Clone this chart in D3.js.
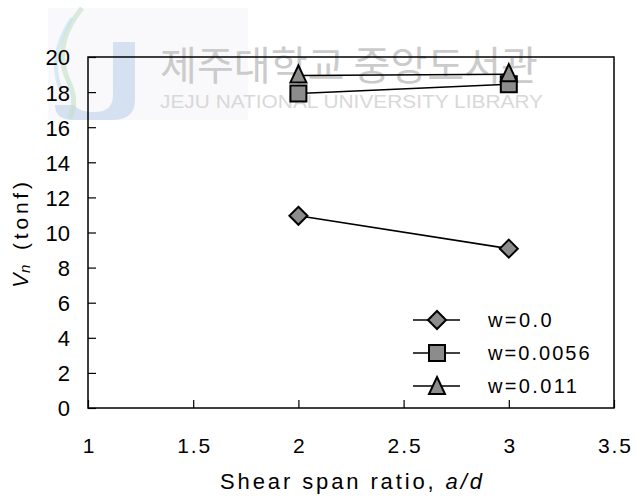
<!DOCTYPE html>
<html><head><meta charset="utf-8">
<script src="https://cdn.jsdelivr.net/npm/d3@7"></script>
<style>body{margin:0;background:#fff}svg{display:block}</style>
</head><body>
<svg id="c" width="636" height="496"></svg>
<script>
const xTicks = [1, 1.5, 2, 2.5, 3, 3.5];
const xTickLabels = ["1", "1.5", "2", "2.5", "3", "3.5"];
const yTicks = [0, 2, 4, 6, 8, 10, 12, 14, 16, 18, 20];
const spanRatio = [2, 3];
const seriesNames = ["w=0.0", "w=0.0056", "w=0.011"];
const seriesShapes = ["diamond", "square", "triangle"];
const vW0 = [10.95, 9.08];
const vW0056 = [17.92, 18.45];
const vW011 = [18.95, 19.02];
const seriesValues = [vW0, vW0056, vW011];

const svg = d3.select("#c");
const L = 88, R = 614, T = 57, B = 408;
const x = d3.scaleLinear().domain([1, 3.5]).range([L, R]);
const y = d3.scaleLinear().domain([0, 20]).range([B, T]);
const narrow = "'Liberation Sans', Arial, sans-serif";

// watermark (behind)
const wm = svg.append("g");
wm.append("rect").attr("x", 48).attr("y", 8).attr("width", 200).attr("height", 112)
  .attr("fill", "#f6f7f9").attr("opacity", 0.7);
wm.append("path")
  .attr("d", "M113,42 L135,42 L135,100 Q135,120 112,120 L70,120 Q55,118 55,105 L75,105 Q78,112 95,112 Q113,112 113,95 Z")
  .attr("fill", "#a9c0e2").attr("opacity", 0.45);
wm.append("path").attr("d", "M82,8 Q52,45 68,80 Q78,100 70,118")
  .attr("fill", "none").attr("stroke", "#c3e0c6").attr("stroke-width", 5).attr("opacity", 0.6);
wm.append("path").attr("d", "M72,18 Q48,55 60,88")
  .attr("fill", "none").attr("stroke", "#bfe0f0").attr("stroke-width", 4).attr("opacity", 0.6);
wm.append("text").attr("x", 160).attr("y", 80)
  .attr("font-family", "'Noto Sans CJK KR', sans-serif").attr("font-size", 40)
  .attr("font-weight", 400)
  .attr("fill", "#cbcbcb").attr("textLength", 378).attr("lengthAdjust", "spacingAndGlyphs")
  .text("제주대학교 중앙도서관");
wm.append("text").attr("x", 160).attr("y", 108)
  .attr("font-family", "'Liberation Sans', Arial, sans-serif").attr("font-size", 18)
  .attr("fill", "#d8d8d8").attr("textLength", 383).attr("lengthAdjust", "spacingAndGlyphs")
  .text("JEJU NATIONAL UNIVERSITY  LIBRARY");

// frame
svg.append("rect").attr("x", L).attr("y", T).attr("width", R - L).attr("height", B - T)
  .attr("fill", "none").attr("stroke", "#000").attr("stroke-width", 1.5);

// axes via d3 axis (ticks inward)
const yAxis = d3.axisLeft(y).tickValues(yTicks).tickSize(-8).tickPadding(18)
  .tickFormat(d3.format("d"));
const gy = svg.append("g").attr("transform", `translate(${L},0)`).call(yAxis);
gy.select(".domain").remove();
gy.selectAll("line").attr("stroke", "#000").attr("stroke-width", 1.2);
gy.selectAll("text").attr("font-family", "'Liberation Sans', Arial, sans-serif")
  .attr("font-size", 22).attr("fill", "#000").attr("dy", "0.36em");

const xAxis = d3.axisBottom(x).tickValues(xTicks).tickSize(-8).tickPadding(30)
  .tickFormat((d, i) => xTickLabels[i]);
const gx = svg.append("g").attr("transform", `translate(0,${B})`).call(xAxis);
gx.select(".domain").remove();
gx.selectAll("line").attr("stroke", "#000").attr("stroke-width", 1.2);
gx.selectAll("text").attr("font-family", narrow)
  .attr("font-size", 21).attr("fill", "#000").attr("dy", "0.71em")
  .each(function(d, i) {
    const s = xTickLabels[i];
    if (s.length > 1) d3.select(this).attr("textLength", 33).attr("lengthAdjust", "spacing");
  });

// axis titles
const xt = svg.append("text").attr("x", 220).attr("y", 489)
  .attr("font-family", narrow)
  .attr("font-size", 22).attr("fill", "#000")
  .attr("textLength", 262).attr("lengthAdjust", "spacing");
xt.append("tspan").text("Shear span ratio, ");
xt.append("tspan").attr("font-style", "italic").text("a/d");

const yt = svg.append("g").attr("transform", "translate(20,235) rotate(-90)");
yt.append("text").attr("x", -53).attr("y", 8)
  .attr("font-family", "'Liberation Sans', Arial, sans-serif").attr("font-size", 22)
  .attr("font-style", "italic").attr("fill", "#000").text("V");
yt.append("text").attr("x", -38).attr("y", 10)
  .attr("font-family", "'Liberation Sans', Arial, sans-serif").attr("font-size", 15)
  .attr("font-style", "italic").attr("fill", "#000").text("n");
yt.append("text").attr("x", -15).attr("y", 8)
  .attr("font-family", narrow)
  .attr("font-size", 21).attr("fill", "#000")
  .attr("textLength", 68).attr("lengthAdjust", "spacing").text("(tonf)");

// marker shapes
function markerPath(shape) {
  if (shape === "diamond") return "M0,-9 L9,0 L0,9 L-9,0 Z";
  if (shape === "square") return "M-8,-8 L8,-8 L8,8 L-8,8 Z";
  return "M0,-9 L8,8 L-8,8 Z";
}
const fillGray = "#8c8c8c";

const line = d3.line().x(d => x(d[0])).y(d => y(d[1]));
const gSeries = svg.append("g");
seriesValues.forEach((vals, k) => {
  const pts = spanRatio.map((s, i) => [s, vals[i]]);
  gSeries.append("path").datum(pts).attr("d", line)
    .attr("fill", "none").attr("stroke", "#000").attr("stroke-width", 1.6);
});
seriesValues.forEach((vals, k) => {
  const pts = spanRatio.map((s, i) => [s, vals[i]]);
  gSeries.selectAll(null).data(pts).enter().append("path")
    .attr("transform", d => `translate(${x(d[0])},${y(d[1]) + (seriesShapes[k] === "triangle" ? -1 : 0)})`)
    .attr("d", markerPath(seriesShapes[k]))
    .attr("fill", fillGray).attr("stroke", "#000").attr("stroke-width", 2)
    .attr("stroke-linejoin", "miter");
});

// legend
const legY = [320, 353, 386];
const lg = svg.append("g");
seriesNames.forEach((name, k) => {
  lg.append("line").attr("x1", 413).attr("x2", 460).attr("y1", legY[k]).attr("y2", legY[k])
    .attr("stroke", "#000").attr("stroke-width", 1.6);
  lg.append("path").attr("transform", `translate(437,${legY[k]})`)
    .attr("d", markerPath(seriesShapes[k]))
    .attr("fill", fillGray).attr("stroke", "#000").attr("stroke-width", 2);
  lg.append("text").attr("x", 488).attr("y", legY[k] + 7)
    .attr("font-family", narrow)
    .attr("font-size", 20).attr("fill", "#000")
    .attr("textLength", name.length * 12.7).attr("lengthAdjust", "spacing")
    .text(name);
});
</script>
</body></html>
